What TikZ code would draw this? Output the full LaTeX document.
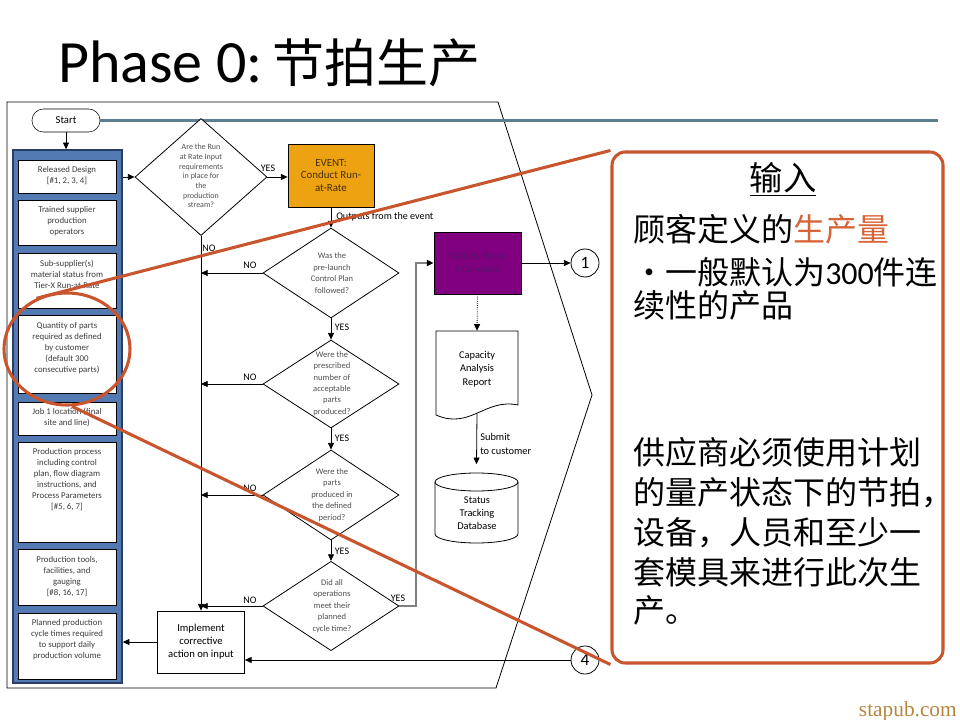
\documentclass[tikz,border=0pt]{standalone}
\usepackage{fontspec}
\setmainfont{Carlito}
\newfontfamily\cjk{Noto Sans CJK SC}
\newfontfamily\webfont{Liberation Serif}
\usetikzlibrary{arrows.meta,shapes.geometric,calc}
\definecolor{colfill}{RGB}{83,122,178}
\definecolor{coldraw}{RGB}{40,62,100}
\definecolor{evorange}{RGB}{237,162,18}
\definecolor{evtext}{RGB}{70,45,10}
\definecolor{stpurple}{RGB}{128,0,128}
\definecolor{sttext}{RGB}{85,20,110}
\definecolor{callred}{RGB}{200,85,45}
\definecolor{hlred}{RGB}{215,100,55}
\definecolor{slate}{RGB}{95,125,145}
\definecolor{diagtxt}{RGB}{80,80,80}
\definecolor{boxtxt}{RGB}{60,60,60}
\definecolor{webtan}{RGB}{180,135,65}
\definecolor{yesgray}{RGB}{128,128,128}
\begin{document}
\begin{tikzpicture}[x=0.75pt,y=-0.75pt,
  box/.style={draw, fill=white, line width=0.6pt, minimum width=73.5pt, inner sep=0pt},
  btxt/.style={align=center, font=\fontsize{6.6}{8.25}\selectfont, text=boxtxt, inner sep=0pt},
  dia/.style={draw, diamond, fill=white, line width=0.6pt, inner sep=0pt},
  dtxt/.style={align=center, font=\fontsize{6.4}{8.6}\selectfont, text=diagtxt, inner sep=0pt},
  lbl/.style={font=\fontsize{7.5}{9}\selectfont, inner sep=0pt},
  arr/.style={-{Triangle[length=5pt,width=4.5pt]}, line width=0.6pt},
  ftxt/.style={align=center, font=\fontsize{8}{9.75}\selectfont, inner sep=0pt},
  redl/.style={draw=callred, line width=2.3pt},
  ctx/.style={anchor=base west, inner sep=0pt, font=\cjk\fontsize{24}{30}\selectfont},
  numc/.style={circle, draw, fill=white, line width=0.6pt, minimum size=21pt, inner sep=0pt, font=\fontsize{13}{13}\selectfont}
]
\useasboundingbox (0,0) rectangle (960,720);
\fill[white] (0,0) rectangle (960,720);

% title
\node[anchor=base west, inner sep=0pt] (title) at (58,83)
  {\fontsize{45}{50}\selectfont Phase 0:\hspace{7pt}{\cjk\fontsize{39}{45}\selectfont 节拍生产}};

% outer frame
\draw[line width=0.6pt] (7,102) -- (498,102) -- (592,395) -- (496,688) -- (7,688) -- cycle;

% start and slate line
\node[draw, fill=white, rounded corners=8.5pt, minimum width=51pt, minimum height=17.25pt, inner sep=0pt,
  font=\fontsize{8}{9}\selectfont] (start) at (66,120.5) {Start};
\coordinate (slend) at (938,120.5);
\draw[slate, line width=1.6pt] (start.east) -- (slend);

% input column
\node[fill=colfill, draw=coldraw, line width=1.2pt, minimum width=81.75pt, minimum height=399.75pt, inner sep=0pt] (col) at (67.5,416.5) {};
\draw[arr] (start.south) -- (start.south |- col.north);

\node[box, minimum height=24.75pt] (b1) at (67,176.5) {};
\node[box, minimum height=33.75pt] (b2) at (67,222.5) {};
\node[box, minimum height=41.25pt] (b3) at (67,280.5) {};
\node[box, minimum height=58.5pt] (b4) at (67,354) {};
\node[box, minimum height=24.75pt] (b5) at (67,418.5) {};
\node[box, minimum height=75pt] (b6) at (67,492) {};
\node[box, minimum height=42pt] (b7) at (67,577) {};
\node[box, minimum height=49.5pt] (b8) at (67,646) {};

\node[btxt] (b1t) at (67,175.5) {Released Design\\{[\#1, 2, 3, 4]}};
\node[btxt] (b2t) at (67,221.5) {Trained supplier\\production\\operators};
\node[btxt] (b3t) at (67,274) {Sub-supplier(s)\\material status from\\Tier-X Run-at-Rate};
\node[btxt] (b4t) at (67,348) {Quantity of parts\\required as defined\\by customer\\(default 300\\consecutive parts)};
\node[btxt] (b5t) at (67,417.5) {Job 1 location (final\\site and line)};
\node[btxt] (b6t) at (67,480) {Production process\\including control\\plan, flow diagram\\instructions, and\\Process Parameters\\{[\#5, 6, 7]}};
\node[btxt] (b7t) at (67,577) {Production tools,\\facilities, and\\gauging\\{[\#8, 16, 17]}};
\node[btxt] (b8t) at (67,640) {Planned production\\cycle times required\\to support daily\\production volume};

% decisions
\node[dia, minimum width=99pt, minimum height=87.75pt] (d1) at (201,177) {};
\node[dtxt, font=\fontsize{6}{7.3}\selectfont] (d1t) at (201,176) {Are the Run\\at Rate Input\\requirements\\in place for\\the\\production\\stream?};
\node[dia, minimum width=102pt, minimum height=67.5pt] (d2) at (331,273) {};
\node[dtxt] (d2t) at (332,273) {Was the\\pre-launch\\Control Plan\\followed?};
\node[dia, minimum width=102pt, minimum height=66pt] (d3) at (331,384) {};
\node[dtxt] (d3t) at (332,383.5) {Were the\\prescribed\\number of\\acceptable\\parts\\produced?};
\node[dia, minimum width=102pt, minimum height=67.5pt] (d4) at (331,495) {};
\node[dtxt] (d4t) at (332,495) {Were the\\parts\\produced in\\the defined\\period?};
\node[dia, minimum width=102pt, minimum height=67pt] (d5) at (331,606) {};
\node[dtxt] (d5t) at (332,606) {Did all\\operations\\meet their\\planned\\cycle time?};

% event
\node[draw, fill=evorange, line width=0.6pt, minimum width=64.5pt, minimum height=47.25pt, inner sep=0pt, align=center,
  font=\fontsize{8.2}{9.4}\selectfont, text=evtext] (ev) at (331,175.5) {EVENT:\\Conduct Run-\\at-Rate};

% implement
\node[draw, fill=white, line width=0.6pt, minimum width=65.25pt, minimum height=46.5pt, ftxt] (imp) at (201,642) {Implement\\corrective\\action on input};

% status
\node[draw, fill=stpurple, line width=0.6pt, minimum width=65.25pt, minimum height=46.5pt, inner sep=0pt, align=center,
  text=sttext, font=\fontsize{7.2}{9.75}\selectfont] (st) at (477.5,263) {STATUS: Phase\\0 Complete};

% circles
\node[numc] (c1) at (585,263) {1};
\node[numc] (c4) at (585,660) {4};

% document
\draw[fill=white, line width=0.6pt] (436,415) -- (436,331) -- (518,331) -- (518,405)
  .. controls (485,398) and (470,430) .. (436,415) -- cycle;
\node[inner sep=0pt, minimum width=61.5pt, minimum height=57pt, ftxt, font=\fontsize{7.8}{10}\selectfont] (doc) at (477,369) {Capacity\\Analysis\\Report};

% database
\draw[fill=white, line width=0.6pt] (435,482) -- (435,534) arc[start angle=180, end angle=360, x radius=31.125pt, y radius=6.75pt] -- (518,482);
\draw[line width=0.6pt] (476.5,482) ellipse [x radius=31.125pt, y radius=6.75pt];
\node[inner sep=0pt, minimum width=62.25pt, minimum height=52.5pt] (db) at (476.5,499.5) {};
\node[ftxt, font=\fontsize{7.8}{9.8}\selectfont] (dbt) at (477,513.5) {Status\\Tracking\\Database};

% connectors
\draw[arr] (col.east |- d1.west) -- (d1.west);
\draw[arr] (d1.east) -- (ev.west |- d1.east);
\draw[arr] (ev.south) -- (d2.north);
\draw[arr] (d2.south) -- (d3.north);
\draw[arr] (d3.south) -- (d4.north);
\draw[arr] (d4.south) -- (d5.north);
\draw[arr] (d1.south) -- (imp.north);
\draw[arr] (d2.west) -- (d2.west -| d1.south);
\draw[arr] (d3.west) -- (d3.west -| d1.south);
\draw[arr] (d4.west) -- (d4.west -| d1.south);
\draw[arr] (d5.west) -- (d5.west -| imp.north);
\draw[arr] (imp.west) -- (imp.west -| col.east);
\draw[arr] (c4.west) -- (c4.west -| imp.east);
\coordinate (yb) at (416,606);
\draw[yesgray, line width=1.5pt, -{Triangle[length=5pt,width=4.5pt,color=black]}] (d5.east) -- (yb) |- (st.west);
\draw[arr] (st.east) -- (c1.west);
\draw[arr, densely dotted] (st.south) -- (doc.north);
\draw[arr] ($(doc.south)+(0,6)$) -- (db.north);

% labels
\node[lbl] (ly1) at (268,168) {YES};
\node[lbl] (ln1) at (209,248) {NO};
\node[lbl] (ln2) at (250,265) {NO};
\node[lbl] (ly2) at (342,327) {YES};
\node[lbl] (ln3) at (250,377) {NO};
\node[lbl] (ly3) at (342,438) {YES};
\node[lbl] (ln4) at (250,488) {NO};
\node[lbl] (ly4) at (342,551) {YES};
\node[lbl] (ln5) at (250,600) {NO};
\node[lbl] (ly5) at (398,598) {YES};
\node[lbl, anchor=west, font=\fontsize{7.6}{9}\selectfont] (outl) at (336,217) {Outputs from the event};
\node[lbl, anchor=west, align=left, font=\fontsize{7.8}{10}\selectfont] (subl) at (480,444) {Submit\\to customer};

% callout
\node[draw=callred, line width=2.3pt, rounded corners=10pt, fill=white, minimum width=248.25pt, minimum height=383.25pt, inner sep=0pt] (call) at (777.5,407.5) {};
\node[ellipse, draw=callred, line width=2.3pt, minimum width=94.5pt, minimum height=84pt, inner sep=0pt] (hl) at (67,349) {};
\draw[redl] (hl.121) -- (call.north west);
\draw[redl] (hl.-85) -- (call.south west);

\node[anchor=base, inner sep=0pt, font=\cjk\fontsize{25}{30}\selectfont] (intitle) at (783,191) {\underline{输入}};
\node[ctx] (l1) at (633,242) {顾客定义的\textcolor{hlred}{生产量}};
\node[ctx] (l2) at (633,285) {•一般默认为{\rmfamily\fontsize{24}{30}\selectfont 300}件连};
\node[ctx] (l3) at (633,317) {续性的产品};
\node[ctx] (p1) at (633,464) {供应商必须使用计划};
\node[ctx] (p2) at (633,504) {的量产状态下的节拍，};
\node[ctx] (p3) at (633,544) {设备，人员和至少一};
\node[ctx] (p4) at (633,584) {套模具来进行此次生};
\node[ctx] (p5) at (633,622) {产。};

\node[anchor=base east, inner sep=0pt, text=webtan, font=\webfont\fontsize{16}{16}\selectfont] (web) at (957,716) {stapub.com};
\end{tikzpicture}
\end{document}
